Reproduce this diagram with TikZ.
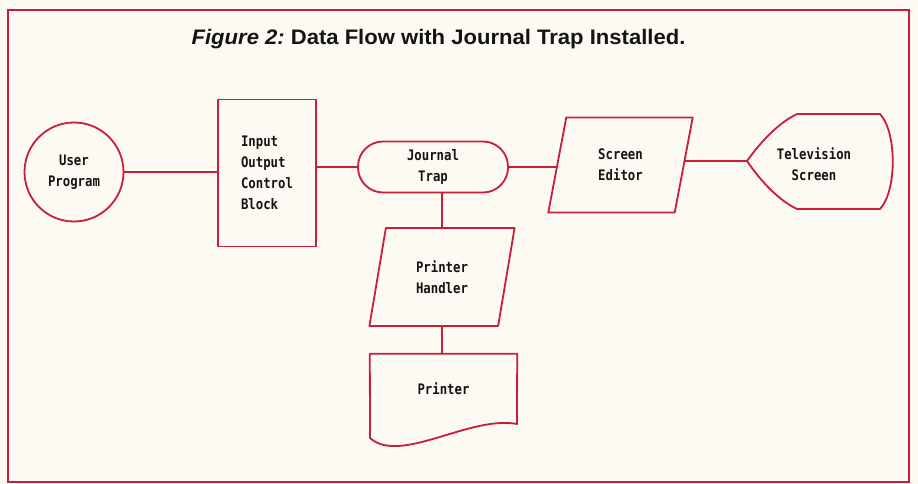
\documentclass[tikz,border=0pt]{standalone}
\usepackage{fontspec}
\setmainfont{Liberation Sans}
\newfontfamily\plotfont[FakeStretch=0.85]{DejaVu Sans Mono}
\newfontfamily\titlefont[FakeStretch=1.05]{Liberation Sans}
\usetikzlibrary{shapes.geometric}
\definecolor{inkred}{HTML}{C81E3A}
\definecolor{paper}{HTML}{FCFAF2}
\definecolor{inkblack}{HTML}{141414}
\tikzset{
  shapeline/.style={draw=inkred, line width=1.8pt, line join=round},
  plot/.style={font=\plotfont\bfseries\fontsize{14.5}{21}\selectfont, text=inkblack, align=center, inner sep=0pt},
  flowbox/.style={shapeline, plot},
  link/.style={draw=inkred, line width=1.8pt},
  parallel/.style={flowbox, trapezium, trapezium left angle=77, trapezium right angle=103,
    trapezium stretches=true},
}
\begin{document}
\begin{tikzpicture}[x=1pt,y=-1pt]
\useasboundingbox (0,0) rectangle (918,484);
\fill[paper] (0,0) rectangle (918,484);
\draw[inkred, line width=2.6pt] (8,10) rectangle (909,482);
\node[anchor=base, text=inkblack, inner sep=0pt] (title) at (438.5,45)
  {\titlefont\fontsize{21}{25}\selectfont\bfseries\itshape Figure 2:\upshape\ Data Flow with Journal Trap Installed.};
% nodes
\node[flowbox, circle, minimum size=99pt] (up) at (74,172) {User\\Program};
\node[flowbox, rectangle, minimum width=98pt, minimum height=147pt, align=left] (iocb) at (267,173)
  {Input\\Output\\Control\\Block};
\node[flowbox, rectangle, rounded corners=25pt, minimum width=150pt, minimum height=51pt] (jt) at (433,167)
  {Journal\\Trap};
\node[parallel, minimum width=145pt, minimum height=95pt] (se) at (620.5,165) {Screen\\Editor};
\node[parallel, minimum width=146pt, minimum height=98pt] (ph) at (442,277) {Printer\\Handler};
\node[plot, minimum width=147pt, minimum height=70pt] (pr) at (443.5,389) {Printer};
\node[plot] (tv) at (814,164) {Television\\Screen};
\coordinate (tvL) at (747,161);
% printer document outline
\draw[shapeline] (pr.north west) -- (pr.north east) -- (517,424)
  .. controls (470,415) and (400,465) .. (370,438) -- cycle;
% television display outline
\draw[shapeline] (tvL) .. controls (762,140) and (780,122) .. (797,114) -- (880,114)
  .. controls (897,132) and (897,191) .. (880,209) -- (797,209)
  .. controls (780,201) and (762,183) .. (tvL) -- cycle;
% connectors
\draw[link] (up.east) -- (up.east -| iocb.west);
\draw[link] (iocb.east |- jt.west) -- (jt.west);
\draw[link] (jt.east) -- (jt.east -| se.west);
\draw[link] (tvL -| se.east) -- (tvL);
\draw[link] (ph.north |- jt.south) -- (ph.north);
\draw[link] (ph.south) -- (ph.south |- pr.north);
\end{tikzpicture}
\end{document}
